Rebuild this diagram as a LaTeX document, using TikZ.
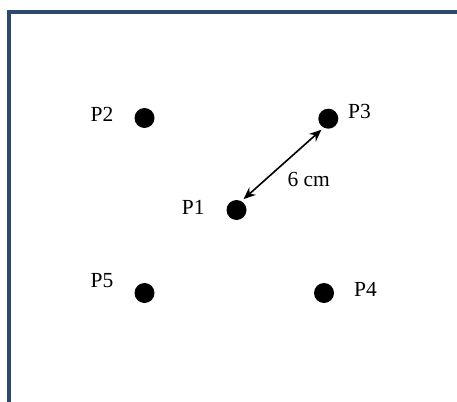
\documentclass[tikz,border=0pt]{standalone}
\usepackage{fontspec}
\setmainfont{Liberation Serif}
\usetikzlibrary{positioning, arrows.meta}

\definecolor{frameblue}{HTML}{2C4A6E}

\begin{document}
\begin{tikzpicture}[
    x=1pt, y=-1pt,
    dot/.style={circle, fill=black, minimum size=20pt, inner sep=0pt, outer sep=3pt},
    lbl/.style={font=\fontsize{21.5}{25}\selectfont, inner sep=0pt},
    dimarrow/.style={{Stealth[length=12pt,width=10pt]}-{Stealth[length=12pt,width=10pt]}, line width=1.6pt},
    frame/.style={draw=frameblue, line width=4.5pt}
]
    \useasboundingbox (0,0) rectangle (457,401);

    % frame
    \coordinate (fb) at (9,405);
    \coordinate (fc) at (9,12);
    \coordinate (fr) at (461,12);
    \draw[frame] (fb) -- (fc) -- (fr);

    % points
    \node[dot] (p1) at (236.5,210) {};
    \node[dot] (p2) at (144.5,118) {};
    \node[dot] (p3) at (328.3,118.7) {};
    \node[dot] (p4) at (324,293) {};
    \node[dot] (p5) at (144.5,293) {};

    % labels
    \node[lbl] (t1) at (193.3,207.5) {P1};
    \node[lbl] (t2) at (102,114) {P2};
    \node[lbl] (t3) at (359.5,111.8) {P3};
    \node[lbl] (t4) at (365.5,289.3) {P4};
    \node[lbl] (t5) at (102,280.3) {P5};

    % distance
    \draw[dimarrow] (p1.57) -- (p3.238);
    \node[lbl] (dist) at (308.7,179.5) {6 cm};
\end{tikzpicture}
\end{document}
